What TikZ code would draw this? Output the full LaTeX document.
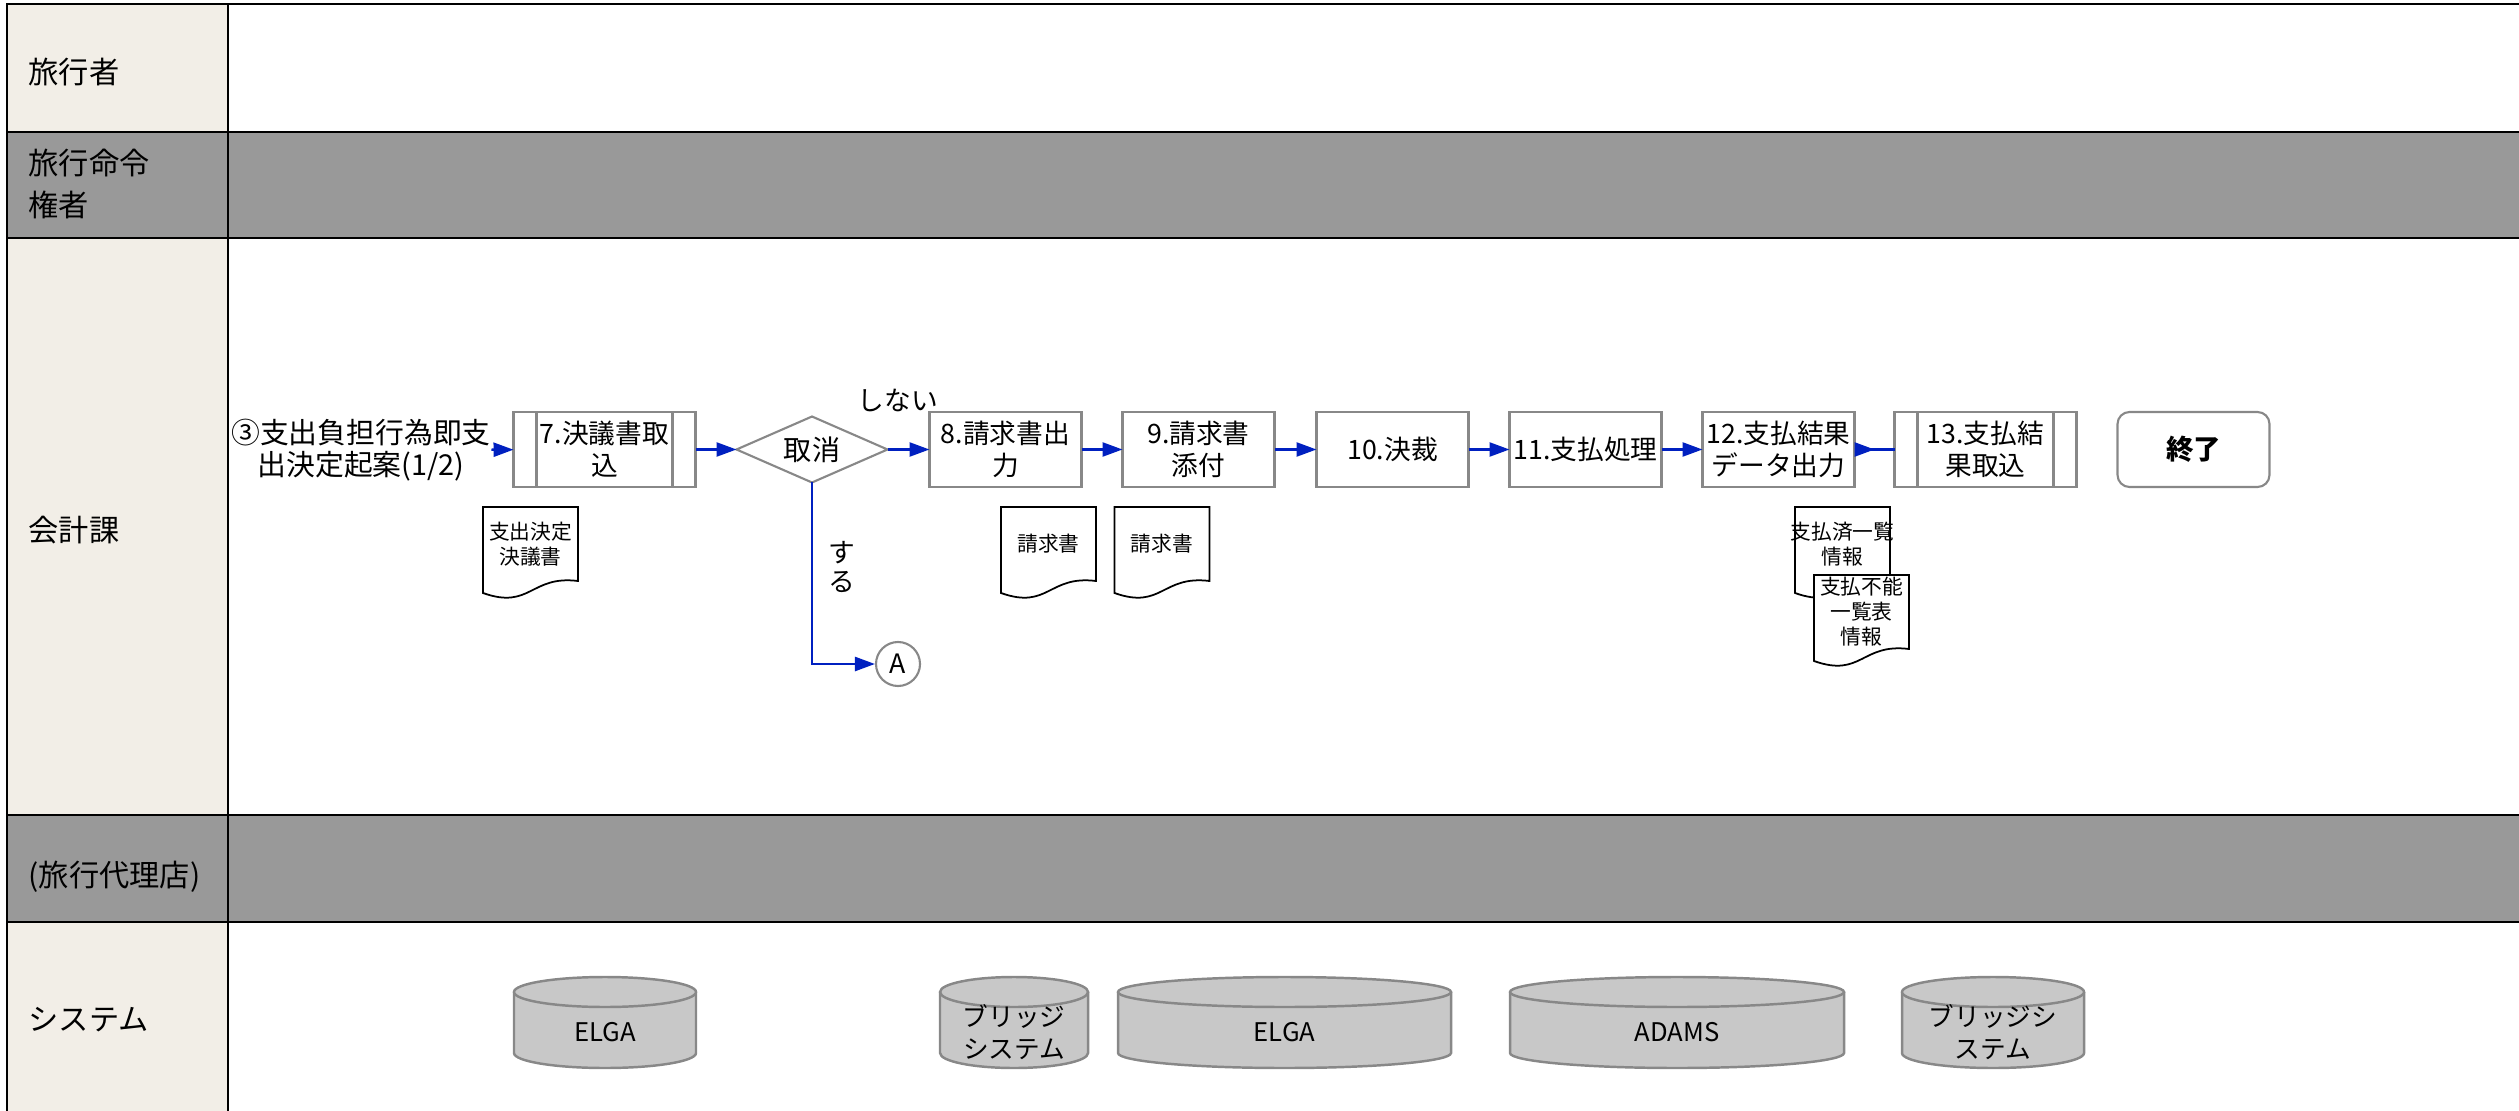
\documentclass[tikz,border=0pt]{standalone}
\usepackage{fontspec}
\setmainfont{Noto Sans CJK JP}
\usetikzlibrary{positioning,shapes.geometric,arrows.meta,decorations.markings}

\definecolor{laneside}{RGB}{242,238,231}
\definecolor{lanedark}{RGB}{153,153,153}
\definecolor{flowblue}{RGB}{0,32,192}
\definecolor{boxgray}{RGB}{136,136,136}
\definecolor{dbgray}{RGB}{200,200,200}

\tikzset{
  laneline/.style={black,line width=0.6pt},
  lanetext/.style={anchor=west,align=left,inner sep=0pt,font=\fontsize{8.6}{12}\selectfont},
  starttext/.style={align=center,inner sep=0pt,font=\fontsize{8.2}{9.1}\selectfont},
  procbox/.style={draw=boxgray,line width=0.6pt,fill=white,minimum width=15.2mm,minimum height=7.5mm,inner sep=0pt,outer sep=0pt,align=center,font=\fontsize{7.6}{9.1}\selectfont},
  subproc/.style={procbox,minimum width=18.2mm,
    path picture={\draw[boxgray,line width=0.6pt]
      ([xshift=2.3mm]path picture bounding box.north west) -- ([xshift=2.3mm]path picture bounding box.south west)
      ([xshift=-2.3mm]path picture bounding box.north east) -- ([xshift=-2.3mm]path picture bounding box.south east);}},
  decide/.style={diamond,draw=boxgray,line width=0.6pt,fill=white,aspect=2.3,minimum width=15.1mm,minimum height=6.6mm,inner sep=0pt,outer sep=0pt,font=\fontsize{8}{9}\selectfont},
  endbox/.style={procbox,rounded corners=1.2mm,font=\fontsize{7.8}{9}\selectfont\bfseries},
  connector/.style={circle,draw=boxgray,line width=0.6pt,minimum size=4.4mm,inner sep=0pt,font=\fontsize{7.6}{9}\selectfont},
  flowlabel/.style={inner sep=0pt,align=center,font=\fontsize{7.6}{8}\selectfont},
  flow/.style={flowblue,line width=0.7pt,-{Triangle[length=2mm,width=1.4mm]}},
  flowmid/.style={flowblue,line width=0.7pt,postaction={decorate},
    decoration={markings,mark=at position 0.5 with {\arrow{Triangle[length=2mm,width=1.4mm]}}}},
  docline/.style={draw=black,line width=0.5pt,fill=white},
  docnode/.style={inner sep=0pt,align=center,font=\fontsize{5.9}{7.1}\selectfont},
  dbbody/.style={draw=boxgray,line width=0.7pt,fill=dbgray},
  dbtext/.style={inner sep=0pt,align=center,font=\fontsize{7.3}{9.1}\selectfont}
}

% document symbol: name, centre x, centre y, text
\newcommand{\wavedoc}[4]{%
  \filldraw[docline] (#2-47.5,#3-37) -- (#2+47.5,#3-37) -- (#2+47.5,#3+37)
    .. controls (#2,#3+31) and (#2,#3+66) .. (#2-47.5,#3+49) -- cycle;
  \node[docnode] (#1) at (#2,#3) {#4};
}
% database symbol: name, centre x, half width, text
\newcommand{\dbcyl}[4]{%
  \filldraw[dbbody] (#2-#3,992) -- (#2-#3,1053)
    arc[start angle=180,end angle=360,x radius=#3*0.1mm,y radius=1.5mm] -- (#2+#3,992);
  \filldraw[dbbody] (#2,992) ellipse[x radius=#3*0.1mm,y radius=1.5mm];
  \node[dbtext] (#1) at (#2,1032) {#4};
}

\begin{document}
\begin{tikzpicture}[x=0.1mm,y=-0.1mm]
\useasboundingbox (0,0) rectangle (2519,1111);

% lanes
\fill[lanedark] (7,132) rectangle (2519,238);
\fill[lanedark] (7,815) rectangle (2519,922);
\fill[laneside] (7,4) rectangle (228,132);
\fill[laneside] (7,238) rectangle (228,815);
\fill[laneside] (7,922) rectangle (228,1111);
\draw[laneline] (2519,4) -- (7,4) -- (7,1111);
\draw[laneline] (228,4) -- (228,1111);
\draw[laneline] (7,132) -- (2519,132);
\draw[laneline] (7,238) -- (2519,238);
\draw[laneline] (7,815) -- (2519,815);
\draw[laneline] (7,922) -- (2519,922);

\node[lanetext] (lTraveler) at (28,72) {旅行者};
\node[lanetext] (lOrderer) at (28,184) {旅行命令\\権者};
\node[lanetext] (lAccount) at (28,530) {会計課};
\node[lanetext] (lAgency) at (28,877) {(旅行代理店)};
\node[lanetext] (lSystem) at (28,1020) {システム};

% main flow
\node[starttext] (start) at (361,450) {③支出負担行為即支\\出決定起案(1/2)};
\node[subproc] (b7) at (604.5,449.5) {7.決議書取\\込};
\node[decide, right=4.1mm of b7] (cancel) {取消};
\node[procbox, right=4.2mm of cancel] (b8) {8.請求書出\\力};
\node[procbox, right=4.1mm of b8] (b9) {9.請求書\\添付};
\node[procbox, right=4.2mm of b9] (b10) {10.決裁};
\node[procbox, right=4.1mm of b10] (b11) {11.支払処理};
\node[procbox, right=4.1mm of b11] (b12) {12.支払結果\\データ出力};
\node[subproc, right=4.0mm of b12] (b13) {13.支払結\\果取込};
\node[endbox, right=4.1mm of b13] (finish) {終了};
\node[connector] (circA) at (898,664) {A};

\node[flowlabel] (lblNo) at (898,400) {しない};
\node[flowlabel] (lblYes) at (842,567) {す\\る};

\draw[flow] (start) -- (b7);
\draw[flow] (b7) -- (cancel);
\draw[flow] (cancel) -- (b8);
\draw[flow] (b8) -- (b9);
\draw[flow] (b9) -- (b10);
\draw[flow] (b10) -- (b11);
\draw[flow] (b11) -- (b12);
\draw[flowmid] (b12) -- (b13);
\draw[flow] (cancel.south) |- (circA);

% documents
\wavedoc{dKetsugi}{530.5}{544}{支出決定\\決議書}
\wavedoc{dSeikyu}{1048.5}{544}{請求書}
\wavedoc{dTenpu}{1162}{544}{請求書}
\wavedoc{dPaid}{1842.5}{544}{支払済一覧\\情報}
\wavedoc{dUnpaid}{1861.5}{612}{支払不能\\一覧表\\情報}

% systems
\dbcyl{cElga}{605}{91}{ELGA}
\dbcyl{cBridge}{1014}{74}{ブリッジ\\システム}
\dbcyl{cElgaPay}{1284.5}{166.5}{ELGA}
\dbcyl{cAdams}{1677}{167}{ADAMS}
\dbcyl{cBridgeRes}{1993}{91}{ブリッジシ\\ステム}
\end{tikzpicture}
\end{document}
